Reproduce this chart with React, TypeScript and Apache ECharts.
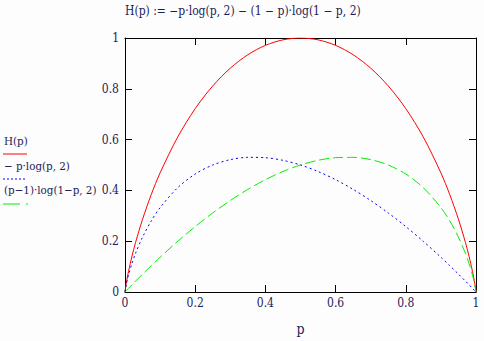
import React, { useEffect, useRef } from "react";
import * as echarts from "echarts";

const pValues = [0, 0.001, 0.005, 0.01, 0.02, 0.03, 0.05, 0.075, 0.1, 0.15, 0.2, 0.25, 0.3, 0.35, 0.4, 0.45, 0.5, 0.55, 0.6, 0.65, 0.7, 0.75, 0.8, 0.85, 0.9, 0.925, 0.95, 0.97, 0.98, 0.99, 0.995, 0.999, 1];
const hValues = [0, 0.0114, 0.0454, 0.0808, 0.1415, 0.1944, 0.2864, 0.3843, 0.469, 0.6098, 0.7219, 0.8113, 0.8813, 0.9341, 0.971, 0.9928, 1.0, 0.9928, 0.971, 0.9341, 0.8813, 0.8113, 0.7219, 0.6098, 0.469, 0.3843, 0.2864, 0.1944, 0.1415, 0.0808, 0.0454, 0.0114, 0];
const aValues = [0, 0.01, 0.0382, 0.0664, 0.1129, 0.1518, 0.2161, 0.2803, 0.3322, 0.4105, 0.4644, 0.5, 0.5211, 0.5301, 0.5288, 0.5184, 0.5, 0.4744, 0.4422, 0.404, 0.3602, 0.3113, 0.2575, 0.1993, 0.1368, 0.104, 0.0703, 0.0426, 0.0286, 0.0144, 0.0072, 0.0014, 0];
const bValues = [0, 0.0014, 0.0072, 0.0144, 0.0286, 0.0426, 0.0703, 0.104, 0.1368, 0.1993, 0.2575, 0.3113, 0.3602, 0.404, 0.4422, 0.4744, 0.5, 0.5184, 0.5288, 0.5301, 0.5211, 0.5, 0.4644, 0.4105, 0.3322, 0.2803, 0.2161, 0.1518, 0.1129, 0.0664, 0.0382, 0.01, 0];
const tickValues = [0, 0.2, 0.4, 0.6, 0.8, 1];
const titleText = "H(p) := \u2212p\u00b7log(p, 2) \u2212 (1 \u2212 p)\u00b7log(1 \u2212 p, 2)";
const legendNames = ["H(p)", "\u2212 p\u00b7log(p, 2)", "(p\u22121)\u00b7log(1\u2212p, 2)"];

const FONT = "DejaVu Serif Condensed";
const TEXT = "#1c1c58";
const FS = 12;
const LFS = 11.5;

export default function App() {
  const ref = useRef<HTMLDivElement>(null);
  useEffect(() => {
    if (!ref.current) return;
    const chart = echarts.init(ref.current, null, { renderer: "svg" });
    const pair = (vals: number[]) => pValues.map((p, i) => [p, vals[i]]);
    const fmt = (v: number) => (tickValues.includes(Math.round(v * 10) / 10) ? String(Math.round(v * 10) / 10) : "");
    const axisCommon = {
      type: "value" as const,
      min: 0,
      max: 1,
      interval: 0.2,
      axisLine: { show: true, onZero: false, lineStyle: { color: "#000", width: 1 } },
      axisTick: { show: true, inside: true, length: 7, lineStyle: { color: "#000", width: 1 } },
      splitLine: { show: false },
    };
    const txt = (text: string, left: number, top: number, size: number) => ({
      type: "text",
      left,
      top,
      style: { text, fill: TEXT, fontFamily: FONT, fontSize: size },
    });
    chart.setOption({
      animation: false,
      backgroundColor: "#fdfdfd",
      textStyle: { fontFamily: FONT },
      grid: { left: 125, right: 8, top: 38, bottom: 41 },
      xAxis: [
        {
          ...axisCommon,
          position: "bottom",
          name: "p",
          nameLocation: "middle",
          nameGap: 30,
          nameTextStyle: { color: TEXT, fontFamily: FONT, fontSize: 14 },
          axisLabel: { color: TEXT, fontFamily: FONT, fontSize: FS, margin: 5, formatter: fmt },
        },
        { ...axisCommon, position: "top", axisLabel: { show: false } },
      ],
      yAxis: [
        {
          ...axisCommon,
          position: "left",
          axisLabel: { color: TEXT, fontFamily: FONT, fontSize: FS, margin: 6, formatter: fmt },
        },
        { ...axisCommon, position: "right", axisLabel: { show: false } },
      ],
      series: [
        {
          type: "line",
          name: legendNames[0],
          data: pair(hValues),
          showSymbol: false,
          smooth: 0.3,
          lineStyle: { color: "#ff0000", width: 1 },
        },
        {
          type: "line",
          name: legendNames[1],
          data: pair(aValues),
          showSymbol: false,
          smooth: 0.3,
          lineStyle: { color: "#0000ff", width: 1, type: [2, 3] },
        },
        {
          type: "line",
          name: legendNames[2],
          data: pair(bValues),
          showSymbol: false,
          smooth: 0.3,
          lineStyle: { color: "#00ee00", width: 1, type: [10, 4] },
        },
      ],
      graphic: [
        txt(titleText, 125, 5, FS),
        txt(legendNames[0], 4, 135, LFS),
        { type: "line", shape: { x1: 3, y1: 154, x2: 27, y2: 154 }, style: { stroke: "#ff0000", lineWidth: 1 } },
        txt(legendNames[1], 4, 160, LFS),
        { type: "line", shape: { x1: 3, y1: 179, x2: 27, y2: 179 }, style: { stroke: "#0000ff", lineWidth: 1, lineDash: [2, 2] } },
        txt(legendNames[2], 4, 184, LFS),
        { type: "line", shape: { x1: 3, y1: 204, x2: 20, y2: 204 }, style: { stroke: "#00ee00", lineWidth: 1 } },
        { type: "line", shape: { x1: 26, y1: 204, x2: 28, y2: 204 }, style: { stroke: "#00ee00", lineWidth: 1 } },
      ],
    });
    return () => chart.dispose();
  }, []);
  return <div ref={ref} style={{ position: "absolute", left: 0, top: 0, width: 484, height: 341 }} />;
}
